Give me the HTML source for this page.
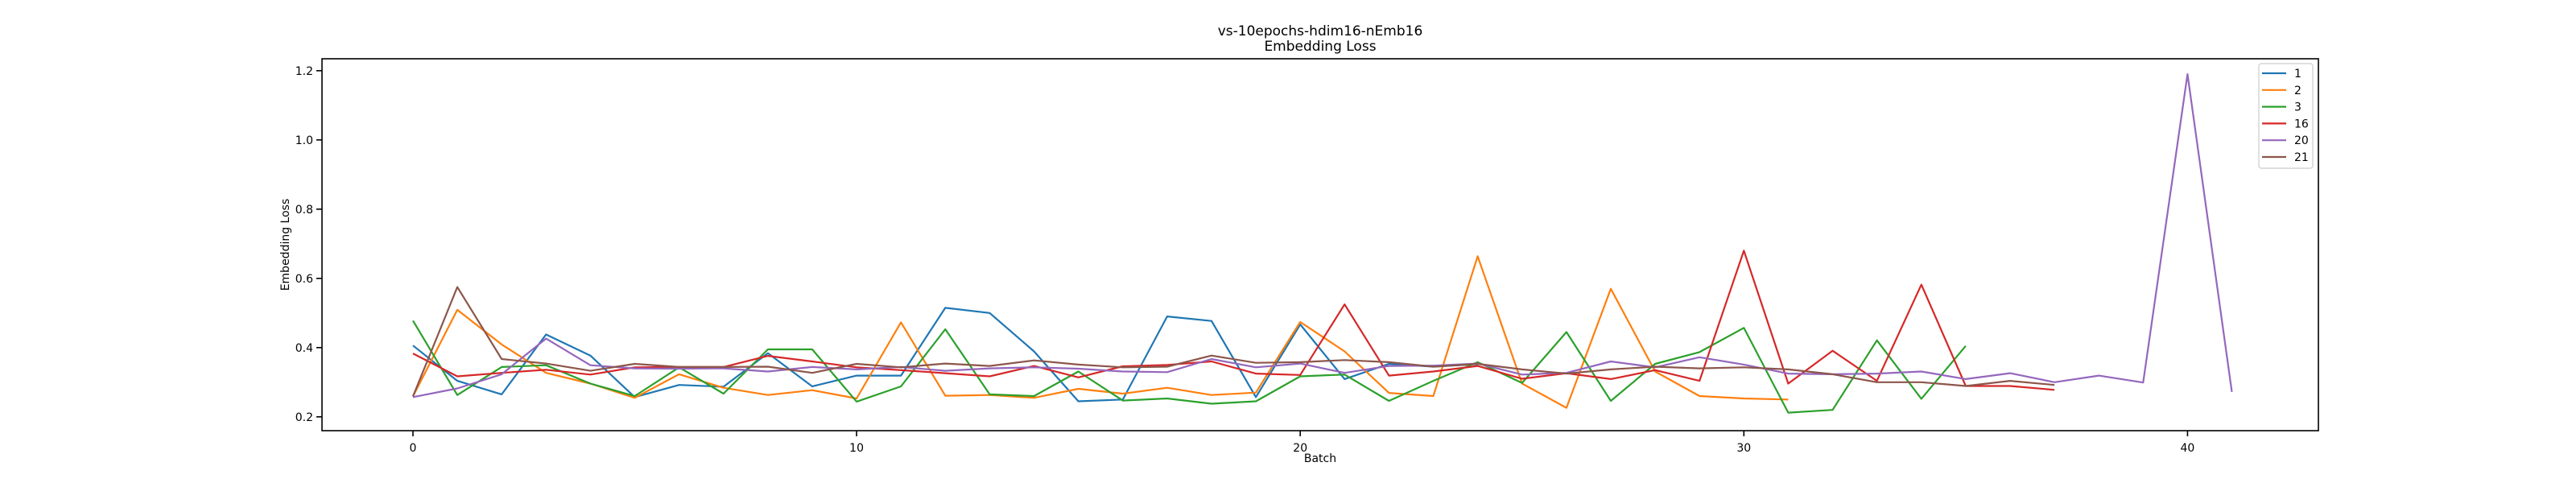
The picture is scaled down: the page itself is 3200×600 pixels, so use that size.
<!DOCTYPE html>
<html><head><meta charset="utf-8"><style>
html,body{margin:0;padding:0;background:#fff;}
svg{display:block;font-family:"DejaVu Sans","Liberation Sans",sans-serif;}
</style></head><body>
<svg id="chart" width="3200" height="600" viewBox="0 0 3200 600" xmlns="http://www.w3.org/2000/svg">
<rect width="3200" height="600" fill="#fff"/>
<text x="1640" y="44" font-size="17" text-anchor="middle">vs-10epochs-hdim16-nEmb16</text>
<text x="1640" y="63" font-size="17" text-anchor="middle">Embedding Loss</text>
<g id="plot"></g>
<text x="1640" y="574" font-size="14" text-anchor="middle">Batch</text>
<text x="359" y="304" font-size="14" text-anchor="middle" transform="rotate(-90 359 304)">Embedding Loss</text>
</svg>
<script>
const seriesNames = ["1","2","3","16","20","21"];
const seriesColors = ["#1f77b4","#ff7f0e","#2ca02c","#d62728","#9467bd","#8c564b"];
const s1 = [0.406,0.304,0.265,0.438,0.377,0.257,0.292,0.287,0.384,0.288,0.319,0.319,0.515,0.5,0.389,0.245,0.25,0.49,0.477,0.257,0.467,0.309,0.353,0.345,0.352];
const s2 = [0.259,0.509,0.409,0.327,0.296,0.255,0.323,0.284,0.263,0.277,0.253,0.473,0.261,0.263,0.255,0.281,0.267,0.284,0.263,0.27,0.474,0.389,0.269,0.26,0.664,0.296,0.226,0.57,0.331,0.26,0.253,0.25];
const s3 = [0.478,0.263,0.344,0.349,0.296,0.26,0.343,0.267,0.395,0.395,0.244,0.288,0.453,0.265,0.26,0.331,0.247,0.253,0.238,0.245,0.317,0.322,0.246,0.304,0.358,0.298,0.445,0.246,0.353,0.387,0.457,0.212,0.22,0.421,0.252,0.405];
const s16 = [0.383,0.317,0.327,0.336,0.322,0.343,0.344,0.344,0.376,0.36,0.343,0.335,0.326,0.317,0.347,0.314,0.346,0.35,0.36,0.325,0.321,0.525,0.319,0.331,0.347,0.31,0.326,0.309,0.335,0.304,0.68,0.296,0.391,0.304,0.582,0.289,0.289,0.278];
const s20 = [0.257,0.282,0.323,0.426,0.349,0.34,0.339,0.34,0.331,0.344,0.337,0.344,0.333,0.34,0.343,0.339,0.331,0.329,0.367,0.343,0.354,0.327,0.347,0.348,0.354,0.322,0.327,0.36,0.343,0.372,0.351,0.325,0.323,0.325,0.331,0.309,0.326,0.3,0.319,0.299,1.19,0.272];
const s21 = [0.259,0.575,0.367,0.354,0.333,0.353,0.344,0.344,0.345,0.327,0.353,0.343,0.354,0.347,0.363,0.351,0.343,0.345,0.377,0.356,0.358,0.364,0.358,0.345,0.353,0.337,0.325,0.337,0.345,0.34,0.343,0.337,0.323,0.3,0.3,0.289,0.304,0.292];
const xTicks = [0,10,20,30,40];
const yTicks = [0.2,0.4,0.6,0.8,1.0,1.2];
const allSeries = [s1,s2,s3,s16,s20,s21];

const L=400,R=2880,T=73,B=535;
const xMin=-2.05,xMax=42.95,yMin=0.160,yMax=1.2345;
const xs=v=>L+(v-xMin)/(xMax-xMin)*(R-L);
const ys=v=>B-(v-yMin)/(yMax-yMin)*(B-T);
const NS="http://www.w3.org/2000/svg";
const g=document.getElementById('plot');
function mk(tag,attrs){const e=document.createElementNS(NS,tag);for(const k in attrs)e.setAttribute(k,attrs[k]);return e;}

allSeries.forEach((s,i)=>{
  const p=mk('polyline',{points:s.map((v,j)=>xs(j).toFixed(1)+','+ys(v).toFixed(1)).join(' '),fill:'none',stroke:seriesColors[i],'stroke-width':'2.2','stroke-linejoin':'round'});
  
  
  g.appendChild(p);
});

const frame=mk('rect',{x:L,y:T,width:R-L,height:B-T,fill:'none',stroke:'#000','stroke-width':'1.6'});


g.appendChild(frame);

xTicks.forEach(t=>{
  const x=xs(t);
  const tk=mk('line',{x1:x,x2:x,y1:B,y2:B+7,stroke:'#000','stroke-width':'1.6'});
  
  
  g.appendChild(tk);
  const tx=mk('text',{x:x,y:B+26,'font-size':'14','text-anchor':'middle'});
  tx.textContent=String(t);
  
  
  g.appendChild(tx);
});
yTicks.forEach(t=>{
  const y=ys(t);
  const tk=mk('line',{x1:L-7,x2:L,y1:y,y2:y,stroke:'#000','stroke-width':'1.6'});
  
  
  g.appendChild(tk);
  const tx=mk('text',{x:L-11,y:y+5,'font-size':'14','text-anchor':'end'});
  tx.textContent=t.toFixed(1);
  
  
  g.appendChild(tx);
});

const lg=mk('g',{});


g.appendChild(lg);
const box=mk('rect',{x:2806,y:79,width:67,height:130,rx:3,fill:'#fff','fill-opacity':'0.8',stroke:'#ccc','stroke-width':'1.2'});


lg.appendChild(box);
seriesNames.forEach((n,i)=>{
  const y=91+i*20.8;
  const ln=mk('line',{x1:2810,x2:2840,y1:y,y2:y,stroke:seriesColors[i],'stroke-width':'2.2'});
  
  
  lg.appendChild(ln);
  const tx=mk('text',{x:2850,y:y+5,'font-size':'14'});
  tx.textContent=n;
  
  
  lg.appendChild(tx);
});
</script>
</body></html>
